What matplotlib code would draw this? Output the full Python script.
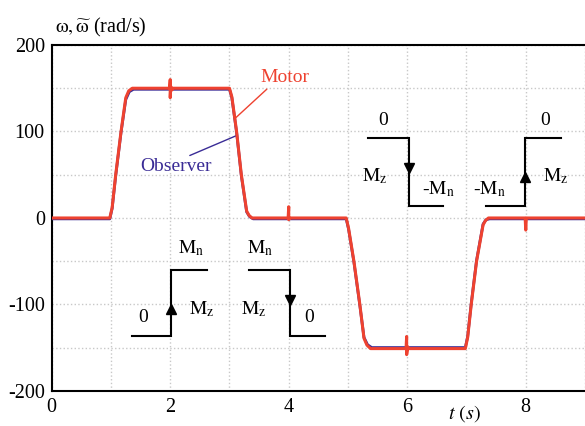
import matplotlib
matplotlib.use("Agg")
import matplotlib.pyplot as plt
from matplotlib.ticker import MultipleLocator

plt.rcParams["font.family"] = ["Liberation Serif", "DejaVu Serif"]
plt.rcParams["mathtext.fontset"] = "stix"
plt.rcParams["axes.unicode_minus"] = False

# ── speed traces (rad/s) ─────────────────────────────────────────────────────
motor_t = [0.0, 0.98, 1.02, 1.08, 1.17, 1.25, 1.30, 1.36,
           1.99, 2.00, 2.00, 2.01, 2.03, 2.05,
           3.00, 3.04, 3.12, 3.20, 3.29, 3.33, 3.38,
           3.99, 4.00, 4.00, 4.02,
           4.97, 5.01, 5.10, 5.20, 5.27, 5.32, 5.38,
           5.98, 5.99, 5.99, 6.01, 6.03,
           6.98, 7.02, 7.08, 7.17, 7.28, 7.32, 7.37,
           7.99, 8.00, 8.01, 9.0]
motor_w = [0.0, 0.0, 12.0, 50.0, 100.0, 139.0, 147.0, 150.0,
           150.0, 160.0, 139.0, 152.0, 148.0, 150.0,
           150.0, 140.0, 100.0, 50.0, 8.0, 3.0, 0.0,
           0.0, 13.0, -2.0, 0.0,
           0.0, -12.0, -50.0, -100.0, -139.0, -147.0, -151.0,
           -151.0, -137.0, -158.0, -149.0, -151.0,
           -151.0, -138.0, -100.0, -50.0, -8.0, -3.0, 0.0,
           0.0, -14.0, 0.0, 0.0]

observer_t = [0.0, 0.98, 1.02, 1.08, 1.17, 1.25, 1.31, 1.38,
              3.00, 3.04, 3.12, 3.20, 3.29, 3.34, 3.40,
              4.97, 5.01, 5.10, 5.20, 5.27, 5.33, 5.40,
              6.98, 7.02, 7.08, 7.17, 7.28, 7.33, 7.39, 9.0]
observer_w = [-1.0, -1.0, 11.0, 49.0, 99.0, 137.0, 146.0, 148.8,
              148.8, 139.0, 99.0, 49.0, 7.0, 1.5, -1.0,
              -1.0, -13.0, -51.0, -101.0, -138.0, -146.5, -149.8,
              -149.8, -137.0, -99.0, -49.0, -7.0, -2.0, -1.0, -1.0]

# ── load-torque step sketches ────────────────────────────────────────────────
steps = [
    # (x points, y points, arrow x, arrow y, marker)
    ([1.349, 2.007, 2.007, 2.624], [-136.6, -136.6, -59.7, -59.7], 2.007, -105.0, "^"),
    ([3.327, 4.019, 4.019, 4.609], [-59.7, -59.7, -136.6, -136.6], 4.019, -94.5, "v"),
    ([5.339, 6.025, 6.025, 6.604], [92.3, 92.3, 14.2, 14.2], 6.025, 57.5, "v"),
    ([7.336, 7.993, 7.993, 8.589], [14.2, 14.2, 92.3, 92.3], 7.993, 47.0, "^"),
]
step_labels = [
    (1.545, -115.4, "0"),
    (2.361, -34.6, r"$\mathrm{M_n}$"),
    (2.530, -105.0, r"$\mathrm{M_z}$"),
    (3.524, -34.6, r"$\mathrm{M_n}$"),
    (3.400, -105.0, r"$\mathrm{M_z}$"),
    (4.344, -115.4, "0"),
    (5.592, 112.6, "0"),
    (5.452, 48.0, r"$\mathrm{M_z}$"),
    (6.519, 33.5, r"-$\mathrm{M_n}$"),
    (8.319, 112.6, "0"),
    (7.391, 33.5, r"-$\mathrm{M_n}$"),
    (8.504, 48.0, r"$\mathrm{M_z}$"),
]

MOTOR_COLOR = "#EE4230"
OBSERVER_COLOR = "#3A2C96"

fig = plt.figure(figsize=(5.85, 4.26), dpi=100)
ax = fig.add_axes([0.0884, 0.0822, 0.9116, 0.8122])

ax.plot(observer_t, observer_w, color=OBSERVER_COLOR, lw=2.0, zorder=3)
ax.plot(motor_t, motor_w, color=MOTOR_COLOR, lw=2.2, zorder=4)

for xs, ys, ax_x, ax_y, mk in steps:
    ax.plot(xs, ys, color="black", lw=1.5, zorder=5, solid_joinstyle="miter")
    ax.plot([ax_x], [ax_y], marker=mk, color="black", markersize=7.5, zorder=6)

for x, y, s in step_labels:
    ax.text(x, y, s, fontsize=14, ha="center", va="center", zorder=6)

ax.annotate("Motor", xy=(3.10, 115.5), xytext=(3.93, 162.0),
            color=MOTOR_COLOR, fontsize=14, ha="center", va="center",
            arrowprops=dict(arrowstyle="-", color=MOTOR_COLOR, lw=1.0,
                            shrinkA=0, shrinkB=0,
                            relpos=(0.2, 0.0)))
ax.annotate("Observer", xy=(3.12, 95.3), xytext=(2.10, 59.2),
            color=OBSERVER_COLOR, fontsize=14, ha="center", va="center",
            arrowprops=dict(arrowstyle="-", color=OBSERVER_COLOR, lw=1.0,
                            shrinkA=0, shrinkB=0,
                            relpos=(0.6, 1.0)))

ax.set_xlim(0, 9)
ax.set_ylim(-200, 200)
ax.xaxis.set_major_locator(MultipleLocator(2))
ax.xaxis.set_minor_locator(MultipleLocator(1))
ax.yaxis.set_major_locator(MultipleLocator(100))
ax.yaxis.set_minor_locator(MultipleLocator(50))
ax.grid(which="both", color="#c8c8c8", linestyle=":", linewidth=1.0, zorder=0)
ax.tick_params(which="both", length=0, labelsize=14.5, pad=5)

ax.spines["right"].set_visible(False)
for side in ("left", "bottom", "top"):
    ax.spines[side].set_linewidth(1.5)

fig.text(55 / 585, 1 - 27 / 426, r"$\mathrm{\omega},\widetilde{\mathrm{\omega}}$ (rad/s)",
         fontsize=14.5, ha="left", va="center")
fig.text(464 / 585, 1 - 414 / 426, r"$t$ $(s)$", fontsize=14.5, ha="center", va="center")

fig.savefig("out.png", dpi=100)
